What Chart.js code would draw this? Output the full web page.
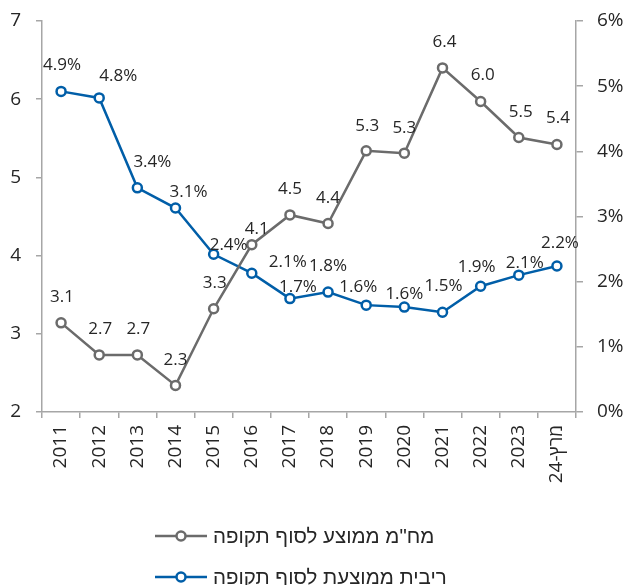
<!DOCTYPE html>
<html>
<head>
<meta charset="utf-8">
<script src="https://cdn.jsdelivr.net/npm/chart.js@4"></script>
<style>
html,body{margin:0;padding:0;background:#fff;}
#wrap{width:628px;height:585px;position:relative;}
</style>
</head>
<body>
<div id="wrap"><canvas id="c" width="628" height="585"></canvas></div>
<script>
const categories = ['2011','2012','2013','2014','2015','2016','2017','2018','2019','2020','2021','2022','2023','מרץ-24'];
const durationValues = [3.14,2.73,2.73,2.34,3.32,4.14,4.52,4.41,5.34,5.31,6.40,5.97,5.51,5.42];
const rateValues = [4.92,4.82,3.44,3.13,2.42,2.13,1.74,1.84,1.64,1.61,1.53,1.93,2.10,2.24];
const leftTicks = [2,3,4,5,6,7];
const rightTicks = [0,1,2,3,4,5,6];
const seriesNames = ['מח"מ ממוצע לסוף תקופה','ריבית ממוצעת לסוף תקופה'];

// label placement offsets (dx, dy) relative to each point, in px
const durationLabelOffsets = [[1,-26],[1,-26],[1,-26],[0,-25],[1,-26],[5,-15],[0,-26],[0,-25],[1,-25],[0,-25],[2,-26],[2,-26],[2,-25],[1,-26]];
const rateLabelOffsets = [[1,-26],[19,-22],[15,-26],[13,-16],[15,-9],[36,-11],[8,-11],[0,-26],[-8,-18],[0,-13],[1,-26],[-4,-19],[6,-12],[3,-23]];

const GRAY = '#6b6b6b';
const BLUE = '#005ea8';
const AXIS = '#a6a6a6';
const TEXT = '#262626';
const NUMFONT = '"Open Sans", "Liberation Sans", sans-serif';
const HEBFONT = '"Liberation Sans", "DejaVu Sans", sans-serif';

const labelPlugin = {
  id: 'dataLabels',
  afterDatasetsDraw(chart) {
    const ctx = chart.ctx;
    ctx.save();
    ctx.font = '17px ' + NUMFONT;
    ctx.fillStyle = TEXT;
    ctx.textAlign = 'center';
    ctx.textBaseline = 'middle';
    chart.data.datasets.forEach((ds, di) => {
      const meta = chart.getDatasetMeta(di);
      const offs = di === 0 ? durationLabelOffsets : rateLabelOffsets;
      meta.data.forEach((pt, i) => {
        const v = ds.data[i];
        const txt = di === 0 ? v.toFixed(1) : v.toFixed(1) + '%';
        ctx.fillText(txt, pt.x + offs[i][0], pt.y + offs[i][1]);
      });
    });
    ctx.restore();
  }
};

const legendPlugin = {
  id: 'customLegend',
  afterDraw(chart) {
    const ctx = chart.ctx;
    ctx.save();
    const rows = [{y: 536, color: GRAY, name: seriesNames[0]}, {y: 577, color: BLUE, name: seriesNames[1]}];
    rows.forEach(r => {
      ctx.strokeStyle = r.color;
      ctx.lineWidth = 2.5;
      ctx.beginPath();
      ctx.moveTo(155, r.y);
      ctx.lineTo(207, r.y);
      ctx.stroke();
      ctx.beginPath();
      ctx.arc(181, r.y, 4.5, 0, Math.PI * 2);
      ctx.fillStyle = '#fff';
      ctx.fill();
      ctx.stroke();
      ctx.fillStyle = TEXT;
      ctx.font = '20.5px ' + HEBFONT;
      ctx.textAlign = 'left';
      ctx.textBaseline = 'middle';
      ctx.fillText(r.name, 213, r.y + 1);
    });
    ctx.restore();
  }
};

new Chart(document.getElementById('c'), {
  type: 'line',
  data: {
    labels: categories,
    datasets: [
      {
        label: seriesNames[0], data: durationValues, yAxisID: 'y',
        borderColor: GRAY, backgroundColor: '#fff', borderWidth: 2.5,
        pointRadius: 4.5, pointBorderWidth: 2.5, pointBackgroundColor: '#fff', pointBorderColor: GRAY,
        tension: 0
      },
      {
        label: seriesNames[1], data: rateValues, yAxisID: 'y1',
        borderColor: BLUE, backgroundColor: '#fff', borderWidth: 2.5,
        pointRadius: 4.5, pointBorderWidth: 2.5, pointBackgroundColor: '#fff', pointBorderColor: BLUE,
        tension: 0
      }
    ]
  },
  options: {
    responsive: false,
    animation: false,
    layout: { padding: { top: 21, left: 0, right: 0, bottom: 0 } },
    plugins: { legend: { display: false }, tooltip: { enabled: false } },
    scales: {
      x: {
        offset: true,
        grid: { offset: true, drawOnChartArea: false, color: AXIS, tickLength: 6, lineWidth: 1.5 },
        border: { color: AXIS, width: 1.5 },
        ticks: { color: TEXT, font: { family: NUMFONT, size: 19 }, minRotation: 90, maxRotation: 90, padding: 7, autoSkip: false },
        afterFit(s) { s.height = 173; s.paddingLeft = 0; s.paddingRight = 0; }
      },
      y: {
        position: 'left', min: 2, max: 7,
        afterBuildTicks(s) { s.ticks = leftTicks.map(v => ({ value: v })); },
        grid: { drawOnChartArea: false, color: AXIS, tickLength: 6, lineWidth: 1.5 },
        border: { color: AXIS, width: 1.5 },
        ticks: { color: TEXT, font: { family: NUMFONT, size: 19 }, padding: 15 },
        afterFit(s) { s.width = 42; s.paddingTop = 0; s.paddingBottom = 0; }
      },
      y1: {
        position: 'right', min: 0, max: 6,
        afterBuildTicks(s) { s.ticks = rightTicks.map(v => ({ value: v })); },
        grid: { drawOnChartArea: false, color: AXIS, tickLength: 7, lineWidth: 1.5 },
        border: { color: AXIS, width: 1.5 },
        ticks: { color: TEXT, font: { family: NUMFONT, size: 19 }, padding: 14, callback: v => v + '%' },
        afterFit(s) { s.width = 52; s.paddingTop = 0; s.paddingBottom = 0; }
      }
    }
  },
  plugins: [labelPlugin, legendPlugin]
});
</script>
</body>
</html>
